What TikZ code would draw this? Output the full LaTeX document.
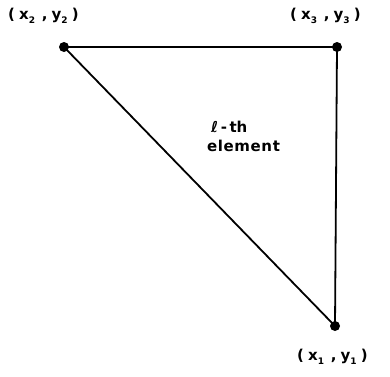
\documentclass[tikz,border=0pt]{standalone}
\usepackage{fontspec}
\setmainfont{DejaVu Sans}
\newcommand{\crd}[2]{(\;x\raisebox{-0.45ex}{\small #1}\;\,,\;y\raisebox{-0.45ex}{\small #2}\;)}
\begin{document}
\begin{tikzpicture}[x=1pt,y=-1pt,
  vtx/.style={circle,fill=black,inner sep=0pt,minimum size=10pt},
  lbl/.style={font=\bfseries\fontsize{15}{17}\selectfont,inner sep=0pt},
  edge/.style={line width=1.8pt}]
\useasboundingbox (0,0) rectangle (390,376);
\node[vtx] (v2) at (64,47) {};
\node[vtx] (v3) at (337,47) {};
\node[vtx] (v1) at (335,326) {};
\draw[edge] (v2.center) -- (v3.center) -- (v1.center) -- (v2.center);
\node[lbl,anchor=west] (l2) at (8,16) {\crd{2}{2}};
\node[lbl,anchor=west] (l3) at (290,16) {\crd{3}{3}};
\node[lbl,anchor=west] (l1) at (297,357) {\crd{1}{1}};
\node[lbl,anchor=west] (t1) at (211,127) {ℓ\,-\,th};
\node[lbl,anchor=west] (t2) at (207,146) {\addfontfeature{LetterSpace=4}element};
\end{tikzpicture}
\end{document}
